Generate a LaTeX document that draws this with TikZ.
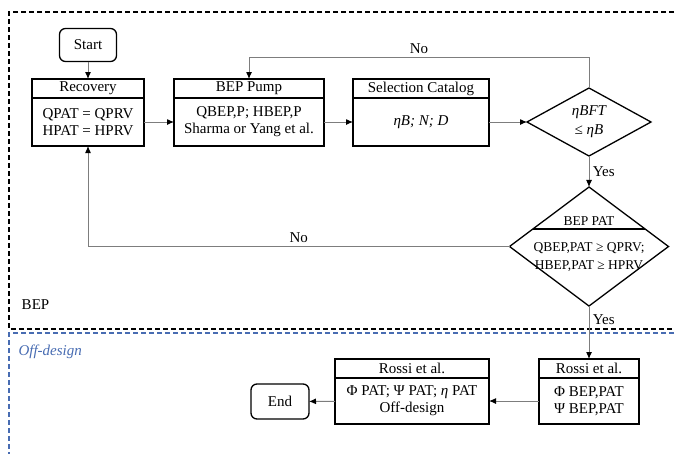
\documentclass[tikz,border=0pt]{standalone}
\usepackage{fontspec}
\setmainfont{Liberation Serif}
\usetikzlibrary{positioning,shapes.geometric,arrows.meta,calc}
\definecolor{linegray}{RGB}{125,125,125}
\definecolor{offblue}{RGB}{72,108,178}
\tikzset{
    head/.style={draw, line width=1.3pt, outer sep=0pt, inner sep=0pt, minimum height=19pt, align=center},
    body/.style={draw, line width=1.3pt, outer sep=0pt, inner sep=0pt, minimum height=48pt, align=center},
    term/.style={draw, line width=1.3pt, rounded corners=6pt, outer sep=0pt, minimum width=57pt, minimum height=33pt, align=center},
    test/.style={draw, diamond, line width=1.3pt, outer sep=0pt, inner sep=0pt, align=center},
    flow/.style={draw=linegray, line width=1pt, -{Latex[length=7pt,width=6pt,color=black]}},
    zone/.style={line width=1.1pt, dash pattern=on 5pt off 3pt},
}
\begin{document}
        \begin{tikzpicture}[x=1pt, y=-1pt, every node/.style={font=\rmfamily\fontsize{15pt}{17pt}\selectfont}]
            \useasboundingbox (0,0) rectangle (675,453);
            \clip (0,0) rectangle (675,453);
            % zones
            \draw[zone] (690,12) -| (9,329) -- (690,329);
            \draw[zone, draw=offblue] (690,333) -| (9,470);
            \node[align=center] (bep) at (35.5,305) {BEP};
            \node[anchor=west, text=offblue, font=\rmfamily\fontsize{15pt}{17pt}\selectfont\itshape] (off) at (15,352) {Off-design};
            % BEP stage
            \node[term] (s) at (88,45) {Start};
            \node[head, minimum width=112pt] (rec0) at (88,88.5) {Recovery};
            \node[body, minimum width=112pt, below=0pt of rec0] (rec1) {QPAT = QPRV\\HPAT = HPRV};
            \node[head, minimum width=150pt] (pump0) at (249,88.5) {BEP Pump};
            \node[body, minimum width=150pt, below=0pt of pump0] (pump1) {QBEP,P; HBEP,P\\Sharma or Yang et al.};
            \node[head, minimum width=136pt] (cat0) at (421,88.5) {Selection Catalog};
            \node[body, minimum width=136pt, below=0pt of cat0, font=\rmfamily\fontsize{15pt}{17pt}\selectfont\itshape] (cat1) {ηB; N; D};
            \node[test, minimum width=124pt, minimum height=68pt, font=\rmfamily\fontsize{15pt}{19pt}\selectfont\itshape] (bft) at (589,122) {ηBFT\\≤ ηB};
            \node[test, minimum width=159pt, minimum height=119pt] (pat) at (589,246.5) {};
            \node[align=center, inner sep=0pt, font=\rmfamily\fontsize{13.5pt}{18pt}\selectfont] (patx) at (589,244) {BEP PAT\\[8pt]QBEP,PAT ≥ QPRV;\\HBEP,PAT ≥ HPRV};
            \draw[line width=1.3pt] ($(pat.north)!0.706!(pat.west)$) -- ($(pat.north)!0.706!(pat.east)$);
            % off-design stage
            \node[head, minimum width=100pt] (ros0) at (589,368.5) {Rossi et al.};
            \node[body, minimum width=100pt, minimum height=46pt, below=0pt of ros0] (ros1) {Φ BEP,PAT\\Ψ BEP,PAT};
            \node[head, minimum width=154pt] (offd0) at (412,368.5) {Rossi et al.};
            \node[body, minimum width=154pt, minimum height=46pt, below=0pt of offd0] (offd1) {Φ PAT; Ψ PAT; \textit{η} PAT\\Off-design};
            \node[term, minimum width=58pt, minimum height=35pt] (e) at (280,401.5) {End};
            \coordinate (c0) at (589,57);
            \draw[flow] (s) -- (rec0);
            \draw[flow] (rec1) -- (pump1);
            \draw[flow] (pump1) -- (cat1);
            \draw[flow] (cat1) -- (bft);
            \draw[flow] (bft.north) -- (c0) -| (pump0.north) node[pos=0.25, above] {No};
            \draw[flow] (bft) -- (pat) node[midway, right] {Yes};
            \draw[flow] (pat.west) -| (rec1.south) node[pos=0.25, above] {No};
            \draw[flow] (pat) -- (ros0) node[pos=0.25, right] {Yes};
            \draw[flow] (ros1) -- (offd1);
            \draw[flow] (offd1) -- (e);
        \end{tikzpicture}
\end{document}
